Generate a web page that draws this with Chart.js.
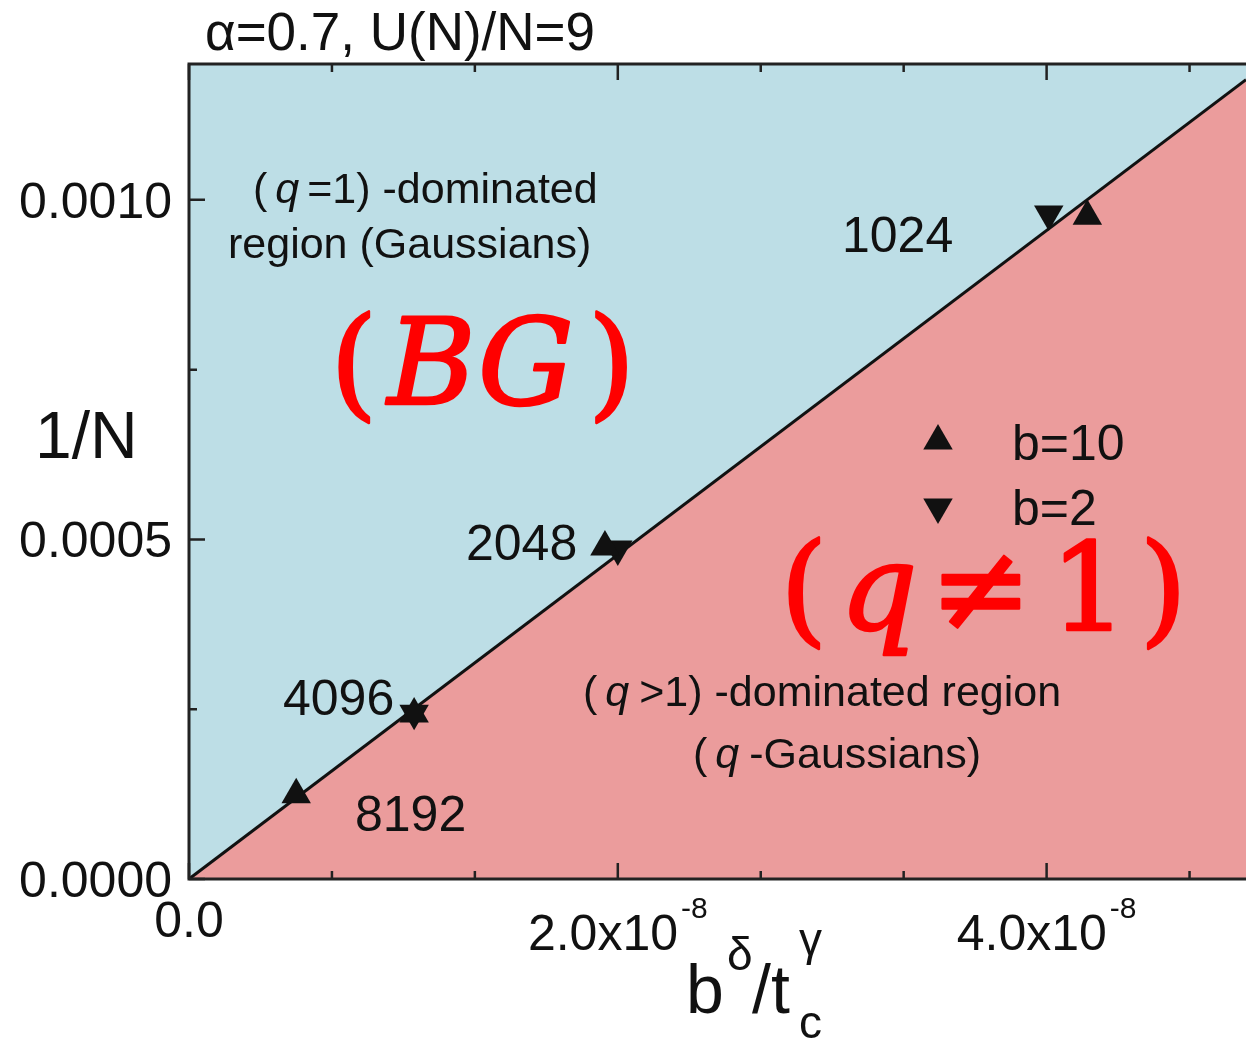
<!DOCTYPE html>
<html>
<head>
<meta charset="utf-8">
<script src="https://cdn.jsdelivr.net/npm/chart.js@4.4.1/dist/chart.umd.min.js"></script>
<style>
  html, body { margin: 0; padding: 0; background: #fff; }
  #wrap { width: 1246px; height: 1046px; }
</style>
</head>
<body>
<div id="wrap"><canvas id="c" width="1246" height="1046"></canvas></div>
<script>
// 데이터
const sizeLabels = ['1024', '2048', '4096', '8192'];
const b10X = [4.19e-8, 1.94e-8, 1.05e-8, 0.50e-8];
const b10Y = [0.000976, 0.000489, 0.000243, 0.000124];
const b2X  = [4.01e-8, 2.00e-8, 1.05e-8];
const b2Y  = [0.000979, 0.000486, 0.000244];

// 경계선 (BG / q-Gaussian)
const boundaryX = [0, 4.93e-8];
const boundaryY = [0, 0.001177];

// 축
const X_MIN = 0, X_MAX = 4.93e-8;
const Y_MIN = 0, Y_MAX = 0.0012;
const xMajorTicks = [0, 2e-8, 4e-8];
const xMinorTicks = [0.6667e-8, 1.3333e-8, 2.6667e-8, 3.3333e-8, 4.6667e-8];
const xTickText   = ['0.0', '2.0x10', '4.0x10'];
const xTickExp    = ['', '-8', '-8'];
const yMajorTicks = [0, 0.0005, 0.0010];
const yMinorTicks = [0.00025, 0.00075];
const yTickText   = ['0.0000', '0.0005', '0.0010'];

const BLUE = '#bddee6';
const PINK = '#eb9c9c';
const INK  = '#111111';
const SANS = '"Liberation Sans", Arial, sans-serif';
const SERIF = '"DejaVu Serif", "Liberation Serif", serif';

const toPts = (xs, ys) => xs.map((x, i) => ({ x, y: ys[i] }));

// 여러 글꼴로 이어쓰기 (stroke > 0 이면 굵게)
function drawParts(ctx, x, y, parts, stroke) {
    parts.forEach(p => {
        ctx.font = p.f;
        x += p.dx || 0;
        ctx.fillText(p.t, x, y + (p.dy || 0));
        if (stroke) {
            ctx.lineWidth = stroke;
            ctx.strokeText(p.t, x, y + (p.dy || 0));
        }
        x += ctx.measureText(p.t).width;
    });
}

function tri(ctx, cx, cy, r, down) {
    const s = down ? -1 : 1;
    ctx.beginPath();
    ctx.moveTo(cx, cy - s * r);
    ctx.lineTo(cx + r * 0.866, cy + s * r * 0.5);
    ctx.lineTo(cx - r * 0.866, cy + s * r * 0.5);
    ctx.closePath();
    ctx.fill();
}

const decor = {
    id: 'decor',
    afterDraw(chart) {
        const { ctx, chartArea: a, scales } = chart;
        const xs = scales.x, ys = scales.y;
        ctx.save();

        // 프레임
        ctx.strokeStyle = '#222';
        ctx.lineWidth = 3;
        ctx.beginPath();
        ctx.moveTo(a.right + 2, a.top);
        ctx.lineTo(a.left, a.top);
        ctx.lineTo(a.left, a.bottom);
        ctx.lineTo(a.right + 2, a.bottom);
        ctx.stroke();

        // 눈금 (안쪽)
        ctx.lineWidth = 2.5;
        ctx.beginPath();
        const xt = (v, len) => {
            const p = xs.getPixelForValue(v);
            ctx.moveTo(p, a.bottom); ctx.lineTo(p, a.bottom - len);
            ctx.moveTo(p, a.top);    ctx.lineTo(p, a.top + len);
        };
        const yt = (v, len) => {
            const p = ys.getPixelForValue(v);
            ctx.moveTo(a.left, p); ctx.lineTo(a.left + len, p);
        };
        xMajorTicks.forEach(v => xt(v, 16));
        xMinorTicks.forEach(v => xt(v, 8));
        yMajorTicks.forEach(v => yt(v, 16));
        yMinorTicks.forEach(v => yt(v, 8));
        ctx.stroke();

        ctx.fillStyle = INK;
        ctx.textBaseline = 'alphabetic';

        // y 눈금 라벨
        ctx.font = '50px ' + SANS;
        ctx.textAlign = 'right';
        yMajorTicks.forEach((v, i) => {
            ctx.fillText(yTickText[i], a.left - 17, ys.getPixelForValue(v) + 18);
        });

        // x 눈금 라벨 (지수는 위첨자)
        ctx.textAlign = 'left';
        xMajorTicks.forEach((v, i) => {
            const p = xs.getPixelForValue(v);
            ctx.font = '50px ' + SANS;
            const wb = ctx.measureText(xTickText[i]).width;
            ctx.font = '30px ' + SANS;
            const we = xTickExp[i] ? ctx.measureText(xTickExp[i]).width + 3 : 0;
            const x0 = p - (wb + we) / 2;
            ctx.font = '50px ' + SANS;
            ctx.fillText(xTickText[i], x0, xTickExp[i] ? 950 : 937);
            if (xTickExp[i]) {
                ctx.font = '30px ' + SANS;
                ctx.fillText(xTickExp[i], x0 + wb + 3, 918);
            }
        });

        // 제목
        ctx.font = '53px ' + SANS;
        ctx.fillText('\u03b1=0.7, U(N)/N=9', 205, 50);

        // 축 제목
        ctx.font = '66px ' + SANS;
        ctx.fillText('1/N', 35, 458);
        drawParts(ctx, 686, 1013, [{ t: 'b', f: '68px ' + SANS }]);
        drawParts(ctx, 727, 970, [{ t: '\u03b4', f: '46px ' + SANS }]);
        drawParts(ctx, 752, 1013, [{ t: '/t', f: '68px ' + SANS }]);
        drawParts(ctx, 799, 955, [{ t: '\u03b3', f: '46px ' + SANS }]);
        drawParts(ctx, 799, 1038, [{ t: 'c', f: '46px ' + SANS }]);

        // 영역 설명
        const f43 = '43px ' + SANS, i43 = 'italic 43px ' + SANS;
        drawParts(ctx, 253, 203, [
            { t: '(', f: f43 }, { t: 'q', f: i43, dx: 8 }, { t: '=1) -dominated', f: f43, dx: 8 }
        ]);
        drawParts(ctx, 228, 258, [{ t: 'region (Gaussians)', f: f43 }]);
        drawParts(ctx, 583, 706, [
            { t: '(', f: f43 }, { t: 'q', f: i43, dx: 8 }, { t: '>1) -dominated region', f: f43, dx: 10 }
        ]);
        drawParts(ctx, 693, 768, [
            { t: '(', f: f43 }, { t: 'q', f: i43, dx: 8 }, { t: '-Gaussians)', f: f43, dx: 10 }
        ]);

        // 크기 라벨
        ctx.font = '50px ' + SANS;
        ctx.fillText(sizeLabels[0], 842, 252);
        ctx.fillText(sizeLabels[1], 466, 560);
        ctx.fillText(sizeLabels[2], 283, 715);
        ctx.fillText(sizeLabels[3], 355, 831);

        // 범례
        tri(ctx, 938, 441, 17, false);
        tri(ctx, 938, 507, 17, true);
        ctx.fillText('b=10', 1012, 460);
        ctx.fillText('b=2', 1012, 525);

        // 빨간 큰 글씨
        ctx.fillStyle = '#ff0000';
        ctx.strokeStyle = '#ff0000';
        ctx.lineJoin = 'round';
        drawParts(ctx, 330, 404, [
            { t: '(', f: '122px ' + SERIF },
            { t: 'BG', f: 'italic 120px ' + SERIF, dx: 10 },
            { t: ')', f: '122px ' + SERIF, dx: 14 }
        ], 2.5);
        drawParts(ctx, 780, 630, [
            { t: '(', f: '122px ' + SERIF },
            { t: 'q', f: 'italic 122px ' + SERIF, dx: 12 },
            { t: '\u2260', f: '122px ' + SERIF, dx: 12 },
            { t: '1', f: '122px ' + SERIF, dx: 18 },
            { t: ')', f: '122px ' + SERIF, dx: 12 }
        ], 2.5);

        ctx.restore();
    }
};

new Chart(document.getElementById('c'), {
    type: 'scatter',
    data: {
        datasets: [
            {
                label: 'BG region',
                data: toPts(boundaryX, boundaryY),
                showLine: true,
                borderWidth: 0,
                pointRadius: 0,
                fill: 'end',
                backgroundColor: BLUE,
                order: 4,
            },
            {
                label: 'boundary',
                data: toPts(boundaryX, boundaryY),
                showLine: true,
                borderColor: INK,
                borderWidth: 3,
                pointRadius: 0,
                fill: 'start',
                backgroundColor: PINK,
                order: 3,
            },
            {
                label: 'b=2',
                data: toPts(b2X, b2Y),
                pointStyle: 'triangle',
                rotation: 180,
                radius: 17,
                backgroundColor: INK,
                borderColor: INK,
                borderWidth: 0,
                order: 2,
            },
            {
                label: 'b=10',
                data: toPts(b10X, b10Y),
                pointStyle: 'triangle',
                radius: 17,
                backgroundColor: INK,
                borderColor: INK,
                borderWidth: 0,
                order: 1,
            },
        ],
    },
    options: {
        responsive: false,
        animation: false,
        devicePixelRatio: 1,
        layout: { autoPadding: false, padding: { left: 189, top: 64, right: 0, bottom: 167 } },
        plugins: { legend: { display: false }, tooltip: { enabled: false } },
        scales: {
            x: { type: 'linear', min: X_MIN, max: X_MAX, display: false },
            y: { type: 'linear', min: Y_MIN, max: Y_MAX, display: false },
        },
    },
    plugins: [decor],
});
</script>
</body>
</html>
